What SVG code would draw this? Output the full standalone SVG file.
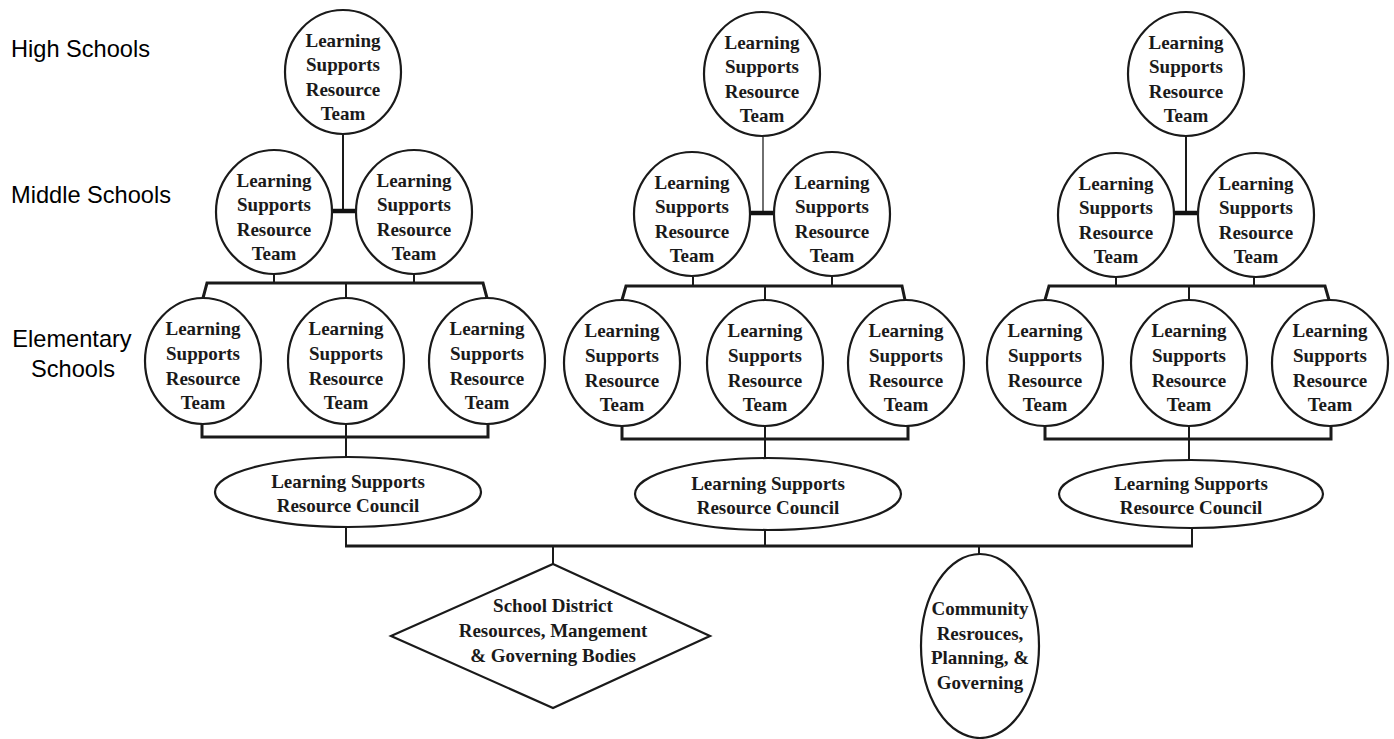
<svg xmlns="http://www.w3.org/2000/svg" width="1394" height="739" viewBox="0 0 1394 739">
<style>
.n{fill:#fff;stroke:#1a1a1a;stroke-width:2.2}
.t{font-family:"Liberation Serif","Times New Roman",serif;font-weight:bold;font-size:19px;fill:#1a1a1a;text-anchor:middle}
.lb{font-family:"Liberation Sans",Arial,sans-serif;font-size:23.6px;fill:#000}
.bar{fill:none;stroke:#1a1a1a;stroke-width:3}
.st{fill:none;stroke:#1a1a1a;stroke-width:2}
.thin{fill:none;stroke:#333;stroke-width:1.4}
.thick{fill:none;stroke:#111;stroke-width:4.5}
</style>
<rect width="1394" height="739" fill="#fff"/>
<g id="labels">
<text class="lb" x="11" y="57">High Schools</text>
<text class="lb" x="11" y="203">Middle Schools</text>
<text class="lb" x="72" y="347" text-anchor="middle">Elementary</text>
<text class="lb" x="73" y="377" text-anchor="middle">Schools</text>
</g>
<g id="connectors">
<!-- cluster 1 -->
<line class="st" x1="343" y1="134" x2="343" y2="211"/>
<line class="thick" x1="331" y1="211" x2="356" y2="211"/>
<line class="st" x1="274" y1="274" x2="274" y2="283"/>
<line class="st" x1="414" y1="274" x2="414" y2="283"/>
<polyline class="bar" points="203,298 207,283 483,283 487,298"/>
<line class="st" x1="346" y1="283" x2="346" y2="298"/>
<polyline class="bar" points="202,424 202,437 488,437 488,424"/>
<line class="st" x1="346" y1="424" x2="346" y2="457"/>
<line class="st" x1="346" y1="527" x2="346" y2="546"/>
<!-- cluster 2 -->
<line class="thin" x1="763" y1="137" x2="763" y2="213"/>
<line class="thick" x1="750" y1="213" x2="774" y2="213"/>
<line class="st" x1="693" y1="277" x2="693" y2="286"/>
<line class="st" x1="832" y1="277" x2="832" y2="286"/>
<polyline class="bar" points="622,300 626,286 902,286 905,300"/>
<line class="st" x1="765" y1="286" x2="765" y2="300"/>
<polyline class="bar" points="622,426 622,439 908,439 908,426"/>
<line class="st" x1="765" y1="426" x2="765" y2="459"/>
<line class="st" x1="765" y1="530" x2="765" y2="546"/>
<!-- cluster 3 -->
<line class="st" x1="1186" y1="137" x2="1186" y2="213"/>
<line class="thick" x1="1173" y1="213" x2="1199" y2="213"/>
<line class="st" x1="1116" y1="277" x2="1116" y2="286"/>
<line class="st" x1="1254" y1="277" x2="1254" y2="286"/>
<polyline class="bar" points="1045,300 1049,286 1325,286 1329,300"/>
<line class="st" x1="1189" y1="286" x2="1189" y2="300"/>
<polyline class="bar" points="1045,426 1045,439 1331,439 1331,426"/>
<line class="st" x1="1189" y1="426" x2="1189" y2="460"/>
<line class="st" x1="1192" y1="528" x2="1192" y2="546"/>
<!-- main bar -->
<line class="bar" x1="345" y1="546" x2="1193" y2="546"/>
<line class="st" x1="553" y1="546" x2="553" y2="564"/>
<line class="st" x1="979" y1="546" x2="979" y2="554"/>
</g>

<g id="c1-hs"><ellipse class="n" cx="343" cy="72" rx="58" ry="62"/>
<text class="t"><tspan x="343" y="47">Learning</tspan><tspan x="343" y="71">Supports</tspan><tspan x="343" y="96">Resource</tspan><tspan x="343" y="120">Team</tspan></text></g>
<g id="c1-ms1"><ellipse class="n" cx="274" cy="212" rx="58" ry="62"/>
<text class="t"><tspan x="274" y="187">Learning</tspan><tspan x="274" y="211">Supports</tspan><tspan x="274" y="236">Resource</tspan><tspan x="274" y="260">Team</tspan></text></g>
<g id="c1-ms2"><ellipse class="n" cx="414" cy="212" rx="58" ry="62"/>
<text class="t"><tspan x="414" y="187">Learning</tspan><tspan x="414" y="211">Supports</tspan><tspan x="414" y="236">Resource</tspan><tspan x="414" y="260">Team</tspan></text></g>
<g id="c1-es1"><ellipse class="n" cx="203" cy="361" rx="58" ry="63"/>
<text class="t"><tspan x="203" y="335">Learning</tspan><tspan x="203" y="360">Supports</tspan><tspan x="203" y="385">Resource</tspan><tspan x="203" y="409">Team</tspan></text></g>
<g id="c1-es2"><ellipse class="n" cx="346" cy="361" rx="58" ry="63"/>
<text class="t"><tspan x="346" y="335">Learning</tspan><tspan x="346" y="360">Supports</tspan><tspan x="346" y="385">Resource</tspan><tspan x="346" y="409">Team</tspan></text></g>
<g id="c1-es3"><ellipse class="n" cx="487" cy="361" rx="58" ry="63"/>
<text class="t"><tspan x="487" y="335">Learning</tspan><tspan x="487" y="360">Supports</tspan><tspan x="487" y="385">Resource</tspan><tspan x="487" y="409">Team</tspan></text></g>
<g id="c1-council"><ellipse class="n" cx="348" cy="492" rx="133" ry="35"/>
<text class="t"><tspan x="348" y="488">Learning Supports</tspan><tspan x="348" y="512">Resource Council</tspan></text></g>

<g id="c2-hs"><ellipse class="n" cx="762" cy="74" rx="58" ry="62"/>
<text class="t"><tspan x="762" y="49">Learning</tspan><tspan x="762" y="73">Supports</tspan><tspan x="762" y="98">Resource</tspan><tspan x="762" y="122">Team</tspan></text></g>
<g id="c2-ms1"><ellipse class="n" cx="692" cy="214" rx="58" ry="62"/>
<text class="t"><tspan x="692" y="189">Learning</tspan><tspan x="692" y="213">Supports</tspan><tspan x="692" y="238">Resource</tspan><tspan x="692" y="262">Team</tspan></text></g>
<g id="c2-ms2"><ellipse class="n" cx="832" cy="214" rx="58" ry="62"/>
<text class="t"><tspan x="832" y="189">Learning</tspan><tspan x="832" y="213">Supports</tspan><tspan x="832" y="238">Resource</tspan><tspan x="832" y="262">Team</tspan></text></g>
<g id="c2-es1"><ellipse class="n" cx="622" cy="363" rx="58" ry="63"/>
<text class="t"><tspan x="622" y="337">Learning</tspan><tspan x="622" y="362">Supports</tspan><tspan x="622" y="387">Resource</tspan><tspan x="622" y="411">Team</tspan></text></g>
<g id="c2-es2"><ellipse class="n" cx="765" cy="363" rx="58" ry="63"/>
<text class="t"><tspan x="765" y="337">Learning</tspan><tspan x="765" y="362">Supports</tspan><tspan x="765" y="387">Resource</tspan><tspan x="765" y="411">Team</tspan></text></g>
<g id="c2-es3"><ellipse class="n" cx="906" cy="363" rx="58" ry="63"/>
<text class="t"><tspan x="906" y="337">Learning</tspan><tspan x="906" y="362">Supports</tspan><tspan x="906" y="387">Resource</tspan><tspan x="906" y="411">Team</tspan></text></g>
<g id="c2-council"><ellipse class="n" cx="768" cy="494" rx="133" ry="36"/>
<text class="t"><tspan x="768" y="490">Learning Supports</tspan><tspan x="768" y="514">Resource Council</tspan></text></g>

<g id="c3-hs"><ellipse class="n" cx="1186" cy="74" rx="58" ry="62"/>
<text class="t"><tspan x="1186" y="49">Learning</tspan><tspan x="1186" y="73">Supports</tspan><tspan x="1186" y="98">Resource</tspan><tspan x="1186" y="122">Team</tspan></text></g>
<g id="c3-ms1"><ellipse class="n" cx="1116" cy="215" rx="58" ry="62"/>
<text class="t"><tspan x="1116" y="190">Learning</tspan><tspan x="1116" y="214">Supports</tspan><tspan x="1116" y="239">Resource</tspan><tspan x="1116" y="263">Team</tspan></text></g>
<g id="c3-ms2"><ellipse class="n" cx="1256" cy="215" rx="58" ry="62"/>
<text class="t"><tspan x="1256" y="190">Learning</tspan><tspan x="1256" y="214">Supports</tspan><tspan x="1256" y="239">Resource</tspan><tspan x="1256" y="263">Team</tspan></text></g>
<g id="c3-es1"><ellipse class="n" cx="1045" cy="363" rx="58" ry="63"/>
<text class="t"><tspan x="1045" y="337">Learning</tspan><tspan x="1045" y="362">Supports</tspan><tspan x="1045" y="387">Resource</tspan><tspan x="1045" y="411">Team</tspan></text></g>
<g id="c3-es2"><ellipse class="n" cx="1189" cy="363" rx="58" ry="63"/>
<text class="t"><tspan x="1189" y="337">Learning</tspan><tspan x="1189" y="362">Supports</tspan><tspan x="1189" y="387">Resource</tspan><tspan x="1189" y="411">Team</tspan></text></g>
<g id="c3-es3"><ellipse class="n" cx="1330" cy="363" rx="58" ry="63"/>
<text class="t"><tspan x="1330" y="337">Learning</tspan><tspan x="1330" y="362">Supports</tspan><tspan x="1330" y="387">Resource</tspan><tspan x="1330" y="411">Team</tspan></text></g>
<g id="c3-council"><ellipse class="n" cx="1191" cy="494" rx="132" ry="34"/>
<text class="t"><tspan x="1191" y="490">Learning Supports</tspan><tspan x="1191" y="514">Resource Council</tspan></text></g>

<g id="district"><polygon class="n" points="553,564 710,636 553,708 391,636"/>
<text class="t"><tspan x="553" y="612">School District</tspan><tspan x="553" y="637">Resources, Mangement</tspan><tspan x="553" y="662">&amp; Governing Bodies</tspan></text></g>
<g id="community"><ellipse class="n" cx="980" cy="646" rx="59" ry="92"/>
<text class="t"><tspan x="980" y="615">Community</tspan><tspan x="980" y="640">Resrouces,</tspan><tspan x="980" y="664">Planning, &amp;</tspan><tspan x="980" y="689">Governing</tspan></text></g>
</svg>
